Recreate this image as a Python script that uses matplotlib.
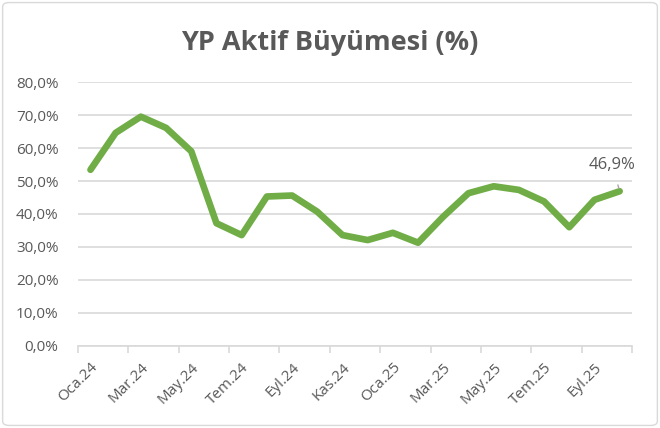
import matplotlib
matplotlib.use("Agg")
import matplotlib.pyplot as plt
from matplotlib.patches import FancyBboxPatch
from matplotlib.ticker import FuncFormatter

plt.rcParams["font.family"] = ["Open Sans", "DejaVu Sans"]

# ---------------------------------------------------------------------------
# Veri
# ---------------------------------------------------------------------------
months = [
    "Oca.24", "Şub.24", "Mar.24", "Nis.24", "May.24", "Haz.24",
    "Tem.24", "Ağu.24", "Eyl.24", "Eki.24", "Kas.24", "Ara.24",
    "Oca.25", "Şub.25", "Mar.25", "Nis.25", "May.25", "Haz.25",
    "Tem.25", "Ağu.25", "Eyl.25", "Eki.25",
]
growth = [
    0.534, 0.646, 0.695, 0.661, 0.590, 0.372,
    0.336, 0.453, 0.456, 0.407, 0.336, 0.321,
    0.343, 0.313, 0.392, 0.463, 0.484, 0.473,
    0.438, 0.360, 0.443, 0.469,
]
last_label = "46,9%"

GREEN = "#70AD47"
TEXT = "#595959"
GRID = "#D9D9D9"

fig = plt.figure(figsize=(6.6, 4.28), dpi=100)
ax = fig.add_axes([0.118, 0.1916, 0.84, 0.6168])

x = list(range(len(months)))
ax.plot(x, growth, color=GREEN, linewidth=4.8, solid_joinstyle="round",
        solid_capstyle="round", zorder=3)

ax.set_xlim(-0.5, len(months) - 0.5)
ax.set_ylim(0, 0.8)
ax.set_yticks([i / 10 for i in range(9)])
ax.yaxis.set_major_formatter(
    FuncFormatter(lambda v, _: f"{v * 100:.1f}%".replace(".", ","))
)
ax.yaxis.grid(True, color=GRID, linewidth=1.2)
ax.set_axisbelow(True)

# x ekseni: etiketler iki ayda bir, çizgiler kategori sınırlarında
ax.set_xticks(x[::2])
ax.set_xticklabels(months[::2], rotation=45, ha="right",
                   rotation_mode="anchor")
ax.set_xticks([i - 0.5 for i in range(0, len(months) + 1, 2)], minor=True)
ax.tick_params(axis="x", which="major", length=0, pad=10,
               labelsize=11, labelcolor=TEXT)
ax.tick_params(axis="x", which="minor", length=5, color=GRID, width=1.2)
ax.tick_params(axis="y", length=0, pad=14, labelsize=11, labelcolor=TEXT)

for side in ["top", "right", "left"]:
    ax.spines[side].set_visible(False)
ax.spines["bottom"].set_color(GRID)
ax.spines["bottom"].set_linewidth(1.2)

ax.annotate(last_label, xy=(x[-1], growth[-1]),
            xytext=(x[-1] - 0.3, growth[-1] + 0.08),
            ha="center", va="center", fontsize=12, color=TEXT,
            arrowprops=dict(arrowstyle="-", color="#A6A6A6", lw=1,
                            shrinkA=7, shrinkB=2))

fig.suptitle("YP Aktif Büyümesi (%)", x=0.5, y=0.93, fontsize=19.5,
             fontweight="bold", color=TEXT)

border = FancyBboxPatch((0.004, 0.006), 0.992, 0.988,
                        boxstyle="round,pad=0,rounding_size=0.01",
                        transform=fig.transFigure, fill=False,
                        edgecolor=GRID, linewidth=1)
fig.patches.append(border)

fig.savefig("out.png", dpi=100)
